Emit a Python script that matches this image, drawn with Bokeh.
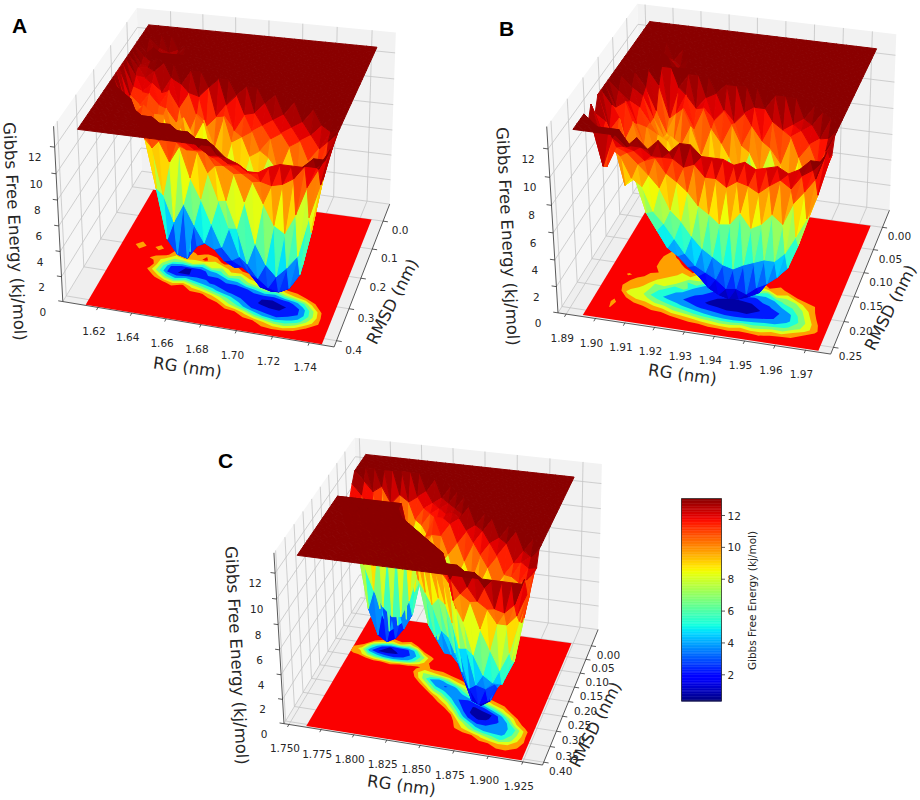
import numpy as np
from contourpy import contour_generator, FillType
from bokeh.plotting import figure
from bokeh.models import Range1d
from bokeh.core.properties import value
from bokeh.embed import file_html
from bokeh.resources import INLINE

T = 13.5  # plateau of the surface, read on the z axis

# ---- grid values: rows go RMSD min -> max, columns RG min -> max
Z_A = [
 [T]*24, [T]*24, [T]*24,
 [T,T,12.8,12.5,12.8]+[T]*19,
 [T,12.7,12.5,12.8,12.6]+[T]*19,
 [T,12.8,T,12.6,12.5,12.8]+[T]*18,
 [T,12.5,12.8]+[T]*21,
 [T,12.6,12.7]+[T]*21,
 [T,12.3,12.2,12.8]+[T]*20,
 [T,11.8,11.5,12.2,11.6,12.8,12.4]+[T]*17,
 [T,11.5,10.8,11.8,11,12.2,11,12.2,12,12.8]+[T]*14,
 [T,11,9.8,11,10,11.2,10.2,9.2,11,10.2,11,12,12.8]+[T]*11,
 [T,11.8,10.8,11.6,11,11,8.8,11,9.5,11,9,11.5,10.5,11.8,12,12.8]+[T]*8,
 [T,12.2,11.8,11,10,8.5,6.5,6,7.5,5.5,9,7.5,10,10.5,11,11.5,12,12.5]+[T]*6,
 [T,T,12.4,11.5,11.5,7,3,1.6,1.4,2.2,3.6,5,8,7,9.5,10,11,11.5,12,12.5]+[T]*4,
 [T,T,T,12,10.2,6.5,2.6,1.5,1.3,2.4,2.8,2.5,4,4.5,7,8,10,9,11,11.5,12,12.8,T,T],
 [T,T,T,T,11.5,10,6.5,4.5,6,4.5,3.2,2.8,2,1.6,2.6,4,5.5,5,7.5,9,10.5,11.5,12.8,T],
 [T,T,T,T,12.5,11.5,11,9.5,10.8,8.5,7,5.2,3.5,2.6,2.2,1.8,1.6,1.6,2.4,3.5,6,10,12.5,T],
 [T,T,T,T,T,12.5,12,12,11.5,11,11,9.5,7.5,5.5,3.4,2.2,1.3,1.1,1.2,1.8,3.4,7,11,T],
 [T]*7+[12.5,12.5,12,11.5,11.5,10.5,8,6,3.4,2.4,1.8,1.6,2,3.2,6.5,10.5,T],
 [T]*9+[12.5,12.5,12,11.5,11,10.5,8.5,5.5,4,3.2,4,5,8,10.5,T],
 [T]*11+[12.5,12,12,11.5,11,10.5,9,7.5,7,8.5,10.6,12,T],
 [T]*13+[12.5,12,12,11.5,11,10.8,11,11.5,12.5,12.5,T],
 [T]*14+[12.8,12.5,12,12,12.5,12.8,12.8,12.8,T,T],
]
Z_B = [
 [T]*24, [T]*24, [T]*24, [T]*24, [T]*24,
 [T]*3+[12.8,12.6]+[T]*19,
 [T]*4+[12.7,12.5]+[T]*18,
 [T]*3+[12.6,T,12.7]+[T]*18,
 [T]*5+[12.6,12.8]+[T]*17,
 [T]*24,
 [T]*4+[12.5,10.2,12.5]+[T]*17,
 [T,T,T,12.6,11,9.5,11,12.4,11.5,12.4,12.8]+[T]*13,
 [T,T,12.8,12.3,10.8,9.5,9.2,11.8,10.4,12,11.2,12,11.2,12,12.5,12.5]+[T]*8,
 [T,12.8,12.2,11.8,10.8,9.5,10,9.5,11,9,11,10,11.5,10,11.5,10.5,12,11.5,12,12.5]+[T]*4,
 [T,12,12.5,11,10.8,10.4,10,8.5,9,8,8.5,7.5,9.5,8,10,8.5,10.5,9.5,11.5,12,12.5,T,T,T],
 [T,12.5,10,11.5,9.8,9.5,8,9,6,7,4.5,6,5,6,4.5,6.5,5,9,8,10.5,11.5,12,T,T],
 [T,11,12,9,10,7.5,8,6,7,3.8,4,2.8,3,2.4,3,2.6,4,4.5,6.5,7,9.5,10.5,12.5,T],
 [12.5,12,10.5,10,8.5,7.2,5.5,5,3.8,3.2,2.6,1.8,1.3,.9,1,1.5,2.4,3.2,4.5,5.8,7.5,10,12,T],
 [T,11.5,11.2,8,8.6,6.2,5,3.8,3.3,2.6,2,1.2,.8,.6,.7,1,1.4,2.4,3,4.2,6.5,9,11.5,T],
 [12.5,12,11,10.5,9,8.5,6.8,6,5,4,3.2,2.8,2.4,1.8,1.9,1.6,2.2,2.6,3.2,4,5.8,8,10.5,12.5],
 [T,12.5,10,11.5,11.2,10.5,9.8,9,7.5,6.8,5.8,5,4.5,4,3.8,4.2,4.5,4.8,4.8,5.5,6.8,8.2,10,12.5],
 [T,T,10.4,12.5,12,11.8,11.2,11.5,10.5,10,9.4,8.5,8,7.4,7.5,8.4,7.4,7.8,8.6,8,9.6,10.5,11.5,T],
 [T,T,T,T,T,12.5,12.5,12,12,12,11.5,11.8,11,11,10.5,11,10.8,10.4,11,11.5,11,12,12.5,T],
 [T,T,T,T,T,12.8,T,12.8,T,12.8,T,T,12.8,12.8,12.8,12.5,12.8,12.4,12.6,12.8,12.4,12.8,T,T],
]
Z_C = [
 [T]*24, [T]*24, [T]*24, [T]*24,
 [T,12.8,12,12.5,11.2,12,11.5,12,12.5]+[T]*15,
 [12.8,12,10.5,9,8,9.5,8,10.5,11.5,12,12.5]+[T]*13,
 [12,10.5,6,3.2,1.4,2,2.6,5,10.5,11.5,12,12.5]+[T]*12,
 [9.8,8.5,3.5,1.4,.9,1.3,2.2,3.5,6.5,10,11.5,12,12.5]+[T]*11,
 [10.8,10,7.5,5.5,4.2,3.5,3.6,5,7.5,10.4,12,12,12.5,12.5]+[T]*10,
 [12.8,12.5,12,10.8,10.4,9.5,10.4,10.4,10.8,10,11,11,12,12.5]+[T]*10,
 [T,T,T,T,T,T,T,T,10,7.5,8,9,10,11,12,12.5]+[T]*8,
 [T]*8+[11.5,8,4.5,3.4,5.5,8.5,10,11.5,12.5]+[T]*7,
 [T]*8+[12.5,11,7.5,4,2.8,3.5,7,9,11,12,12.5]+[T]*5,
 [T]*9+[12.5,10.8,7,5,3.2,4,6.5,9,10.5,11.5,12.5]+[T]*4,
 [T]*10+[12,10.8,8,5,3,2.5,4,7,9.5,10.5,11.5,12.5]+[T]*2,
 [T]*11+[12,10.5,8,4.2,2,1.4,2.2,5,8,10.8,12,12.5]+[T],
 [T]*12+[12,10.8,7,3.2,1,.7,1.2,3.5,7.5,10.8,12]+[T],
 [T]*13+[12,10.5,5.5,2.4,1.2,1.6,2.8,4.5,9,11.5,12.5],
 [T]*14+[12,9,6,3.2,3,3.5,4,5.5,9,12.5],
 [T]*15+[10,8.5,6,4.5,4,4,6,9,12.5],
 [T]*15+[12,11,10.5,8.5,7,5.5,7,9.5,11.5],
 [T]*17+[12,11,10.5,9.5,9.5,10.3,12],
 [T]*19+[12.5,11,10.8,11.5,T],
 [T]*24,
]

RG_TICKS_A = [1.62, 1.64, 1.66, 1.68, 1.70, 1.72, 1.74]
RG_TICKS_B = [1.89, 1.90, 1.91, 1.92, 1.93, 1.94, 1.95, 1.96, 1.97]
RG_TICKS_C = [1.750, 1.775, 1.800, 1.825, 1.850, 1.875, 1.900, 1.925]
RMSD_TICKS_A = [0.0, 0.1, 0.2, 0.3, 0.4]
RMSD_TICKS_B = [0.00, 0.05, 0.10, 0.15, 0.20, 0.25]
RMSD_TICKS_C = [0.00, 0.05, 0.10, 0.15, 0.20, 0.25, 0.30, 0.35, 0.40]
Z_TICKS = [0, 2, 4, 6, 8, 10, 12]
CB_TICKS = [2, 4, 6, 8, 10, 12]
FLOOR_LEVELS = [1.5, 3, 4.5, 6, 7.5, 9, 10.5]

# axis limits / data extents of every panel
PANELS = [
 dict(name="A", Z=Z_A, xt=RG_TICKS_A, yt=RMSD_TICKS_A, xfmt="%.2f", yfmt="%.1f",
      xlim=(1.5988,1.7534), ylim=(-0.063,0.419), data_x=(1.6124,1.7467), data_y=(0.0,0.417),
      corners=[(62,304),(332,346),(389,204),(143,168),(55,123),(133,10),(397,32)],
      letter=(19,25), zlab=(14,231), xlab=(187,367), ylab=(392,301)),
 dict(name="B", Z=Z_B, xt=RG_TICKS_B, yt=RMSD_TICKS_B, xfmt="%.2f", yfmt="%.2f",
      xlim=(1.8872,1.9782), ylim=(-0.0394,0.2627), data_x=(1.8954,1.974), data_y=(0.0,0.26),
      corners=[(555,312),(831,353),(888,211),(645,176),(548,127),(635,3),(896,33)],
      letter=(506,28), zlab=(507,236), xlab=(682,374), ylab=(890,307)),
 dict(name="C", Z=Z_C, xt=RG_TICKS_C, yt=RMSD_TICKS_C, xfmt="%.3f", yfmt="%.2f",
      xlim=(1.7461,1.9391), ylim=(-0.0616,0.409), data_x=(1.7629,1.9237), data_y=(0.0,0.405),
      corners=[(282,724),(542,764),(597,630),(362,596),(275,552),(352,438),(602,463)],
      letter=(225,460), zlab=(236,655), xlab=(401,785), ylab=(595,724)),
]
Z_TOP = 13.55
VMIN, VMAX = 0.34, 13.05
VIEW = np.array([0.25, -0.79, 0.57])  # towards the camera, in the 4:4:3 box
FONT = value("DejaVu Sans")
TXT = "#262626"

def jet(t):
    t = np.clip(t, 0, 1)
    r = np.interp(t, [0,.35,.66,.89,1], [0,0,1,1,.545])
    g = np.interp(t, [0,.125,.375,.64,.91,1], [0,0,1,1,0,0])
    b = np.interp(t, [0,.11,.34,.65,1], [.5,1,1,0,0])
    return "#%02x%02x%02x" % (int(r*255), int(g*255), int(b*255))

def zcolor(z):
    return jet((z - VMIN) / (VMAX - VMIN))

def camera(corners):
    box = [(0,0,0),(1,0,0),(1,1,0),(0,1,0),(0,0,1),(0,1,1),(1,1,1)]
    A = []
    for (X,Y,Z_), (sx,sy) in zip(box, corners):
        A.append([X,Y,Z_,1,0,0,0,0,-sx*X,-sx*Y,-sx*Z_,-sx])
        A.append([0,0,0,0,X,Y,Z_,1,-sy*X,-sy*Y,-sy*Z_,-sy])
    return np.linalg.svd(np.array(A, float))[2][-1].reshape(3,4)

# range units are the page's pixels
p = figure(width=920, height=800, x_range=Range1d(0,920), y_range=Range1d(800,0),
           output_backend="svg", toolbar_location=None, min_border=0)
p.axis.visible = False
p.grid.visible = False
p.outline_line_color = None

for pn in PANELS:
    P = camera(pn["corners"])
    xl, xh = pn["xlim"]; yl, yh = pn["ylim"]
    def box(u, v, h, P=P):
        u, v, h = np.asarray(u,float), np.asarray(v,float), np.asarray(h,float)
        q = [P[i,0]*u + P[i,1]*v + P[i,2]*h + P[i,3] for i in range(3)]
        return q[0]/q[2], q[1]/q[2]
    def proj(x, y, z, xl=xl, xh=xh, yl=yl, yh=yh, box=box):
        x, y, z = np.asarray(x,float), np.asarray(y,float), np.asarray(z,float)
        return box((x-xl)/(xh-xl), (yh-y)/(yh-yl), z/Z_TOP)

    # panes
    wall = [((0,0,0),(0,1,0),(0,1,1),(0,0,1),"#f6f6f6"),
            ((0,1,0),(1,1,0),(1,1,1),(0,1,1),"#f2f2f2"),
            ((0,0,0),(1,0,0),(1,1,0),(0,1,0),"#efefef")]
    for a,b,c,d,col in wall:
        pts = np.array([a,b,c,d], float)
        sx, sy = box(pts[:,0], pts[:,1], pts[:,2])
        p.patch(sx.tolist(), sy.tolist(), fill_color=col, line_color=None)

    # grid lines
    gx, gy = [], []
    for t in pn["xt"]:
        u = (t-xl)/(xh-xl)
        sx, sy = box(np.array([u,u,u]), np.array([0,1,1.]), np.array([0,0,1.]))
        gx.append(sx.tolist()); gy.append(sy.tolist())
    for t in pn["yt"]:
        v = (yh-t)/(yh-yl)
        sx, sy = box(np.array([1,0,0.]), np.array([v,v,v]), np.array([0,0,1.]))
        gx.append(sx.tolist()); gy.append(sy.tolist())
    for t in Z_TICKS:
        h = t/Z_TOP
        sx, sy = box(np.array([0,0,1.]), np.array([0,1,1.]), np.array([h,h,h]))
        gx.append(sx.tolist()); gy.append(sy.tolist())
    p.multi_line(gx, gy, line_color="#c4c4c4", line_width=0.8)

    # axis lines and ticks
    lines = [((0,0,0),(1,0,0)), ((1,0,0),(1,1,0)), ((0,0,0),(0,0,1))]
    ax, ay = [], []
    for a,b in lines:
        pts = np.array([a,b], float)
        sx, sy = box(pts[:,0], pts[:,1], pts[:,2])
        ax.append(sx.tolist()); ay.append(sy.tolist())
    tl = 0.018
    labx, laby, labt = [], [], []
    for t in pn["xt"]:
        u = (t-xl)/(xh-xl)
        sx, sy = box(np.array([u,u]), np.array([0,-tl]), np.array([0,0.]))
        ax.append(sx.tolist()); ay.append(sy.tolist())
        labx.append(sx[0]-4); laby.append(sy[0]+24); labt.append(pn["xfmt"] % t)
    for t in pn["yt"]:
        v = (yh-t)/(yh-yl)
        sx, sy = box(np.array([1,1+tl]), np.array([v,v]), np.array([0,0.]))
        ax.append(sx.tolist()); ay.append(sy.tolist())
        labx.append(sx[0]+17); laby.append(sy[0]+9); labt.append(pn["yfmt"] % t)
    for t in Z_TICKS:
        h = t/Z_TOP
        sx, sy = box(np.array([0,-tl]), np.array([0,0.]), np.array([h,h]))
        ax.append(sx.tolist()); ay.append(sy.tolist())
        labx.append(sx[0]-20); laby.append(sy[0]+10); labt.append("%d" % t)
    p.multi_line(ax, ay, line_color="#303030", line_width=0.8)

    # floor: filled contours of the grid
    Z = np.array(pn["Z"], float)
    rg = np.linspace(*pn["data_x"], Z.shape[1])
    rm = np.linspace(*pn["data_y"], Z.shape[0])
    fx, fy = proj([rg[0],rg[-1],rg[-1],rg[0]], [rm[-1],rm[-1],rm[0],rm[0]], [0,0,0,0])
    p.patch(fx.tolist(), fy.tolist(), fill_color="#fb0000", line_color=None)
    cg = contour_generator(x=rg, y=rm, z=Z, fill_type=FillType.OuterOffset)
    lv = FLOOR_LEVELS
    for i in range(len(lv)-1, -1, -1):
        lo = lv[i-1] if i > 0 else 0.0
        col = zcolor((lo + lv[i]) / 2)
        pts_list, off_list = cg.filled(-1.0, lv[i])
        mx, my = [], []
        for pts, off in zip(pts_list, off_list):
            rx, ry = [], []
            for a, b in zip(off[:-1], off[1:]):
                sx, sy = proj(pts[a:b,0], pts[a:b,1], np.zeros(b-a))
                rx.append(sx.tolist()); ry.append(sy.tolist())
            mx.append(rx); my.append(ry)
        if mx:
            p.multi_polygons([mx], [my], fill_color=col, line_color=None)

    # surface: triangles, far ones first
    X, Y = np.meshgrid(rg, rm)
    sx, sy = proj(X, Y, Z)
    U = (X-xl)/(xh-xl)*4; V = (yh-Y)/(yh-yl)*4; H = Z/Z_TOP*3
    tris = []
    nr, nc = Z.shape
    for r in range(nr-1):
        for c in range(nc-1):
            for t in ([(r,c),(r,c+1),(r+1,c+1)], [(r,c),(r+1,c+1),(r+1,c)]):
                d = sum(VIEW @ np.array([U[q],V[q],H[q]]) for q in t)/3
                tris.append((d, t))
    tris.sort(key=lambda e: e[0])
    xs = [[float(sx[q]) for q in t] for _, t in tris]
    ys = [[float(sy[q]) for q in t] for _, t in tris]
    cols = [zcolor(sum(Z[q] for q in t)/3) for _, t in tris]
    p.patches(xs, ys, fill_color=cols, line_color=cols, line_width=1.0, fill_alpha=1, line_alpha=1)

    # texts
    p.text(labx, laby, text=labt, text_font=FONT, text_font_size="10.5px", text_color=TXT,
           text_align="center", text_baseline="middle")
    for (lx,ly), s, ang in ((pn["xlab"],"RG (nm)",-8), (pn["ylab"],"RMSD (nm)",63),
                            (pn["zlab"],"Gibbs Free Energy (kj/mol)",-87)):
        p.text([lx],[ly], text=[s], angle=ang, angle_units="deg", text_font=FONT,
               text_font_size="16.5px", text_color=TXT, text_align="center", text_baseline="middle")
    p.text([pn["letter"][0]],[pn["letter"][1]], text=[pn["name"]], text_font=value("Liberation Sans"),
           text_font_size="21px", text_font_style="bold", text_color="black",
           text_align="center", text_baseline="middle")

# colour bar
CB_L, CB_R, CB_T, CB_B = 681, 721, 498, 700.5
per_unit = 15.93
edges = np.linspace(VMIN, 13.05, 129)
ytop = 515 + (12-edges[1:])*per_unit
ybot = 515 + (12-edges[:-1])*per_unit
cbc = [zcolor((a+b)/2) for a,b in zip(edges[:-1],edges[1:])]
p.quad(left=CB_L, right=CB_R, top=ytop, bottom=ybot, fill_color=cbc, line_color=cbc, line_width=0.5)
p.quad(left=[CB_L], right=[CB_R], top=[CB_T], bottom=[CB_B], fill_color=None, line_color="#303030", line_width=0.8)
ty = [515+(12-t)*per_unit for t in CB_TICKS]
p.segment(x0=[CB_R]*len(ty), x1=[CB_R+3.5]*len(ty), y0=ty, y1=ty, line_color="#303030", line_width=0.8)
p.text([CB_R+6]*len(ty), ty, text=[str(t) for t in CB_TICKS], text_font=FONT, text_font_size="10.5px",
       text_color=TXT, text_align="left", text_baseline="middle")
p.text([751],[600], text=["Gibbs Free Energy (kj/mol)"], angle=90, angle_units="deg", text_font=FONT,
       text_font_size="10.5px", text_color=TXT, text_align="center", text_baseline="middle")

open("out.html", "w").write(file_html(p, INLINE))
